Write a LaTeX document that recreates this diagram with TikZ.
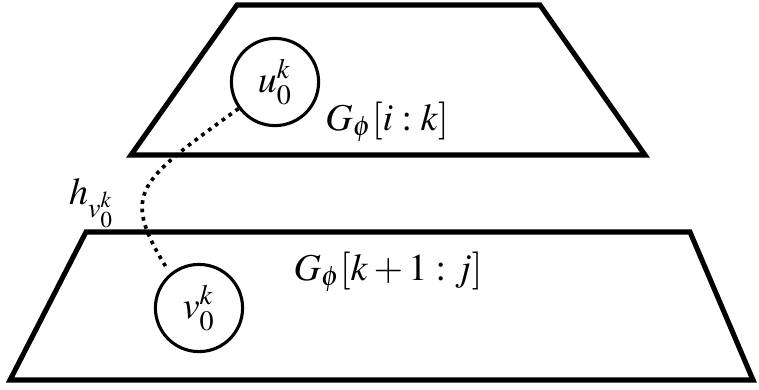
\documentclass[tikz,border=0pt]{standalone}
\usepackage{amsmath}
\usepackage{mathptmx}
\usepackage{tikz}
\usetikzlibrary{positioning,calc}
\tikzset{
  plane/.style={draw=black,line width=1.8pt,line join=miter},
  vtx/.style={circle,draw=black,line width=1.1pt,minimum size=31pt,inner sep=0pt},
  hop/.style={draw=black,line width=1.3pt,dash pattern=on 1.3pt off 1.7pt},
}
\tikzset{lbl/.style={inner sep=0pt}}

\begin{document}
\begin{tikzpicture}[x=0.0125cm,y=-0.0125cm,font=\fontsize{13.5}{16}\selectfont]
\useasboundingbox (0,0) rectangle (759,389);
% upper plane
\coordinate (a1) at (237,5);
\coordinate (a2) at (540,5);
\coordinate (a3) at (645,155);
\coordinate (a4) at (131,155);
\draw[plane] (a1)--(a2)--(a3)--(a4)--cycle;
% lower plane
\coordinate (b1) at (86,232);
\coordinate (b2) at (690,232);
\coordinate (b3) at (753,380);
\coordinate (b4) at (10,380);
\draw[plane] (b1)--(b2)--(b3)--(b4)--cycle;
\node[vtx] (u) at (275,82) {$u_0^k$};
\node[vtx] (v) at (199,308) {$v_0^k$};
\node[lbl] (gtop) at (387,122) {$G_\phi[i:k]$};
\node[lbl] (gbot) at (388,272) {$G_\phi[k+1:j]$};
\node[lbl] (h) at (92,203) {$h_{v_0^k}$};
\draw[hop,shorten >=3pt] (u.216) .. controls (139,181) and (120,192) .. (v.130);
\end{tikzpicture}
\end{document}
